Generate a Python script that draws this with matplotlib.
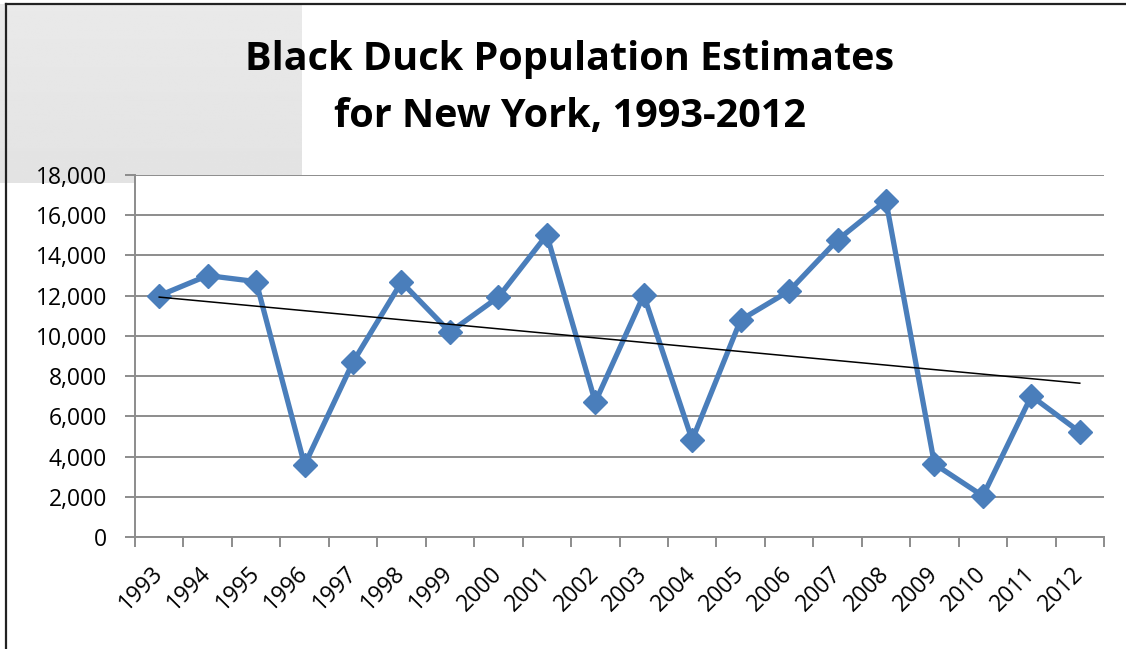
import numpy as np
import matplotlib.pyplot as plt
from matplotlib.lines import Line2D
from matplotlib.ticker import FuncFormatter, MultipleLocator

years = [str(y) for y in range(1993, 2013)]
ducks = [12000, 13000, 12700, 3580, 8700, 12680, 10190, 11930, 15020, 6710,
         12030, 4820, 10790, 12230, 14770, 16710, 3630, 2040, 7010, 5220]
title = "Black Duck Population Estimates\nfor New York, 1993-2012"

plt.rcParams['font.family'] = ['Open Sans', 'DejaVu Sans']

W, H = 1126, 649
fig = plt.figure(figsize=(W / 100, H / 100), dpi=100)
fig.patch.set_facecolor('white')

# grey box behind the top-left corner, slightly darker towards the bottom
grad = np.linspace(0.915, 0.89, 64).reshape(-1, 1)
bg = fig.add_axes([0, 1 - 183 / H, 302 / W, 179 / H], zorder=0)
bg.imshow(np.repeat(grad, 2, axis=1), cmap='gray', vmin=0, vmax=1,
          aspect='auto', extent=[0, 1, 0, 1])
bg.axis('off')

# frame lines along the top and left edges
fig.add_artist(Line2D([6 / W, 1], [1 - 4 / H, 1 - 4 / H], color='#222222', lw=1.6, transform=fig.transFigure))
fig.add_artist(Line2D([6 / W, 6 / W], [0, 1 - 4 / H], color='#222222', lw=1.6, transform=fig.transFigure))

ax = fig.add_axes([135 / W, 1 - 537 / H, (1104 - 135) / W, (537 - 175) / H], zorder=2)
ax.set_facecolor('white')

x = np.arange(len(years))
ax.plot(x, ducks, color='#4a7ebb', lw=3.8, marker='D', markersize=12,
        markerfacecolor='#4a7ebb', markeredgecolor='#4a7ebb', zorder=3)

# linear trend through the yearly estimates
k, b = np.polyfit(x, ducks, 1)
ax.plot(x, k * x + b, color='black', lw=1.1, zorder=4)

ax.set_xlim(-0.5, len(years) - 0.5)
ax.set_ylim(0, 18000)
ax.yaxis.set_major_locator(MultipleLocator(2000))
ax.yaxis.set_major_formatter(FuncFormatter(lambda v, p: f"{int(v):,}"))
ax.grid(axis='y', color='#8c8c8c', lw=1.4)
ax.set_axisbelow(True)

ax.set_xticks(np.arange(len(years) + 1) - 0.5)
ax.set_xticklabels([])
ax.set_xticks(x, minor=True)
ax.set_xticklabels(years, minor=True, rotation=45, ha='right', va='center',
                   rotation_mode='anchor', fontsize=16.5)
ax.tick_params(axis='x', which='minor', length=0, pad=24)
ax.tick_params(axis='x', which='major', direction='out', length=7, width=1.4, color='#8c8c8c')
ax.tick_params(axis='y', direction='out', length=7, width=1.4, color='#8c8c8c', labelsize=16.5, pad=13)

for side in ['top', 'right']:
    ax.spines[side].set_visible(False)
for side in ['left', 'bottom']:
    ax.spines[side].set_color('#8c8c8c')
    ax.spines[side].set_linewidth(1.4)

fig.text(570 / W, 1 - 88 / H, title, ha='center', va='center', fontsize=28.5,
         fontweight='bold', linespacing=1.6)

fig.savefig('out.png', dpi=100)
